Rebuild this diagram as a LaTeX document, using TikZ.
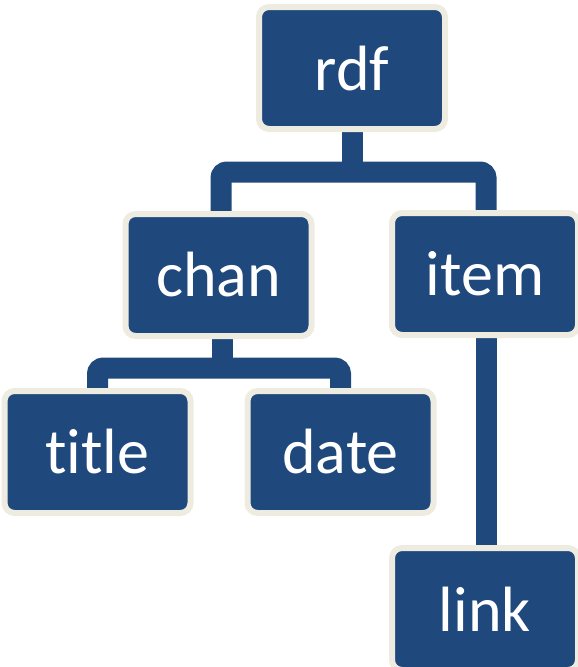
\documentclass[tikz,border=0pt]{standalone}
\usepackage{fontspec}
\setmainfont{Carlito}[Ligatures={NoCommon,NoRare}]
\usetikzlibrary{backgrounds}
\definecolor{boxblue}{RGB}{31,73,125}
\definecolor{boxrim}{RGB}{238,236,225}
\tikzset{
  box/.style={draw=boxrim, line width=6pt, fill=boxblue, rounded corners=10pt,
    minimum width=186pt, minimum height=122pt, inner sep=0pt, text=white,
    font=\fontsize{64}{70}\selectfont},
  conn/.style={draw=boxblue, line width=21pt, rounded corners=6pt, line cap=butt}
}
\begin{document}
\begin{tikzpicture}[x=1pt,y=1pt]
\useasboundingbox (0,0) rectangle (578,-667);
\clip (0,0) rectangle (578,-667);
\node[box] (rdf) at (352,-68) {rdf};
\node[box] (chan) at (218.5,-275) {chan};
\node[box] (item) at (485,-274) {item};
\node[box] (title) at (97.5,-452) {title};
\node[box] (date) at (340.5,-452) {date};
\node[box] (link) at (485,-609) {link};
\coordinate (j1) at (352,-172);
\coordinate (j2) at (222,-368);
\begin{scope}[on background layer]
\draw[conn] ([xshift=2.5pt]chan.north) |- (j1) -| ([xshift=1pt]item.north);
\draw[conn] (rdf.south) -- (j1);
\draw[conn] (title.north) |- (j2) -| (date.north);
\draw[conn] ([xshift=3.5pt]chan.south) -- (j2);
\draw[conn] ([xshift=1pt]item.south) -- ([xshift=1pt]link.north);
\end{scope}
\end{tikzpicture}
\end{document}
